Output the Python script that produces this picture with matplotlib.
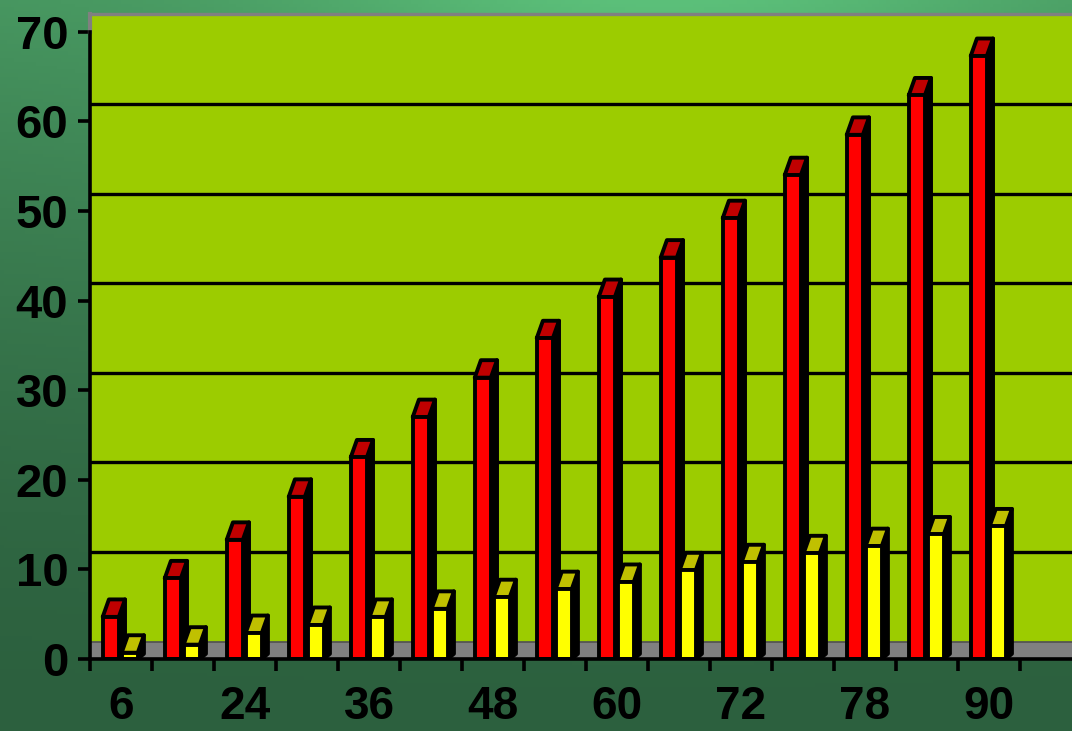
import numpy as np
import matplotlib
matplotlib.use("Agg")
import matplotlib.pyplot as plt
from matplotlib.patches import Polygon

# ---- data ----
categories = ["6", "", "24", "", "36", "", "48", "", "60", "", "72", "", "78", "", "90"]
red_values = [4.7, 9.0, 13.3, 18.1, 22.5, 27.0, 31.4, 35.8, 40.4, 44.8, 49.2, 54.0, 58.5, 62.9, 67.3]
yellow_values = [0.7, 1.6, 2.9, 3.8, 4.7, 5.6, 6.9, 7.8, 8.6, 9.9, 10.8, 11.8, 12.6, 13.9, 14.8]
y_ticks = [0, 10, 20, 30, 40, 50, 60, 70]

W, H, DPI = 1072, 731, 100
fig = plt.figure(figsize=(W / DPI, H / DPI), dpi=DPI)

# background gradient
bg = fig.add_axes([0, 0, 1, 1], zorder=-10)
ny, nx = 200, 300
yy, xx = np.mgrid[0:1:ny * 1j, 0:1:nx * 1j]
light = np.array([92, 192, 122]) / 255.0
dark = np.array([44, 96, 62]) / 255.0
t = (1 - yy) ** 1.6 * (0.55 + 0.45 * np.exp(-((xx - 0.62) / 0.35) ** 2))
t = np.clip(t, 0, 1)
img = dark[None, None, :] * (1 - t[..., None]) + light[None, None, :] * t[..., None]
bg.imshow(img, extent=[0, 1, 0, 1], aspect="auto", origin="upper")
bg.set_axis_off()

L, R, B, T = 90, 1072, 659, 14
ax = fig.add_axes([L / W, 1 - B / H, (R - L) / W, (B - T) / H])
ax.set_facecolor("#9CCC00")

n = len(red_values)
x = np.arange(n)
ax.set_xlim(-0.5, -0.5 + (R - L) / 62.0)
ax.set_ylim(0, (B - T) / 8.96)

depth_y = 1.95   # back offset in data units
depth_x = 0.1
LW = 2.8

# floor
ax.axhspan(0, depth_y, color="#808080", zorder=1)
ax.axhline(depth_y, color="#505050", lw=1.2, zorder=1.1)

# back-wall gridlines
for v in y_ticks[1:]:
    if v < 70:
        ax.axhline(v + depth_y, color="black", lw=2.4, zorder=1.5)

bw = 0.26
red_c = x - 0.165
yel_c = x + 0.14


def bar3d(centers, vals, front, topc, z):
    ax.bar(centers, vals, width=bw, color=front, edgecolor="black",
           linewidth=LW, zorder=z + 0.2)
    for c, v in zip(centers, vals):
        x0, x1 = c - bw / 2, c + bw / 2
        side = Polygon([(x1, 0), (x1, v), (x1 + depth_x, v + depth_y),
                        (x1 + depth_x, depth_y * 0.3)], closed=True,
                       facecolor="black", edgecolor="black", lw=LW,
                       joinstyle="round", zorder=z)
        top = Polygon([(x0, v), (x0 + depth_x, v + depth_y),
                       (x1 + depth_x, v + depth_y), (x1, v)], closed=True,
                      facecolor=topc, edgecolor="black", lw=LW,
                      joinstyle="round", zorder=z + 0.1)
        ax.add_patch(side)
        ax.add_patch(top)


bar3d(red_c, red_values, "#FF0000", "#C00000", 3)
bar3d(yel_c, yellow_values, "#FFFF00", "#C0C000", 4)

# spines
ax.spines["right"].set_visible(False)
ax.spines["top"].set_color("#808080")
ax.spines["top"].set_linewidth(2.4)
ax.spines["left"].set_bounds(0, 70)
ax.spines["left"].set_linewidth(2.6)
ax.spines["left"].set_zorder(6)
ax.spines["bottom"].set_linewidth(2.6)
ax.spines["bottom"].set_zorder(6)
ax.plot([-0.5, -0.5], [70, ax.get_ylim()[1]], color="#808080", lw=3.0,
        clip_on=False, zorder=5)

font = dict(family="Liberation Sans", weight="bold", size=34)
xfont = dict(family="Liberation Sans", weight="bold", size=33)
ax.set_yticks(y_ticks)
ax.set_yticklabels([str(v) for v in y_ticks], **font)
ax.tick_params(axis="y", direction="out", length=8.6, width=2.6, pad=7)

ax.set_xticks(np.arange(-0.5, n, 1.0))
ax.set_xticklabels([])
ax.tick_params(axis="x", which="major", direction="out", length=8.6, width=2.6)
ax.set_xticks(x, minor=True)
ax.set_xticklabels(categories, minor=True, **xfont)
ax.tick_params(axis="x", which="minor", length=0, pad=19)

fig.savefig("out.png", dpi=DPI)
